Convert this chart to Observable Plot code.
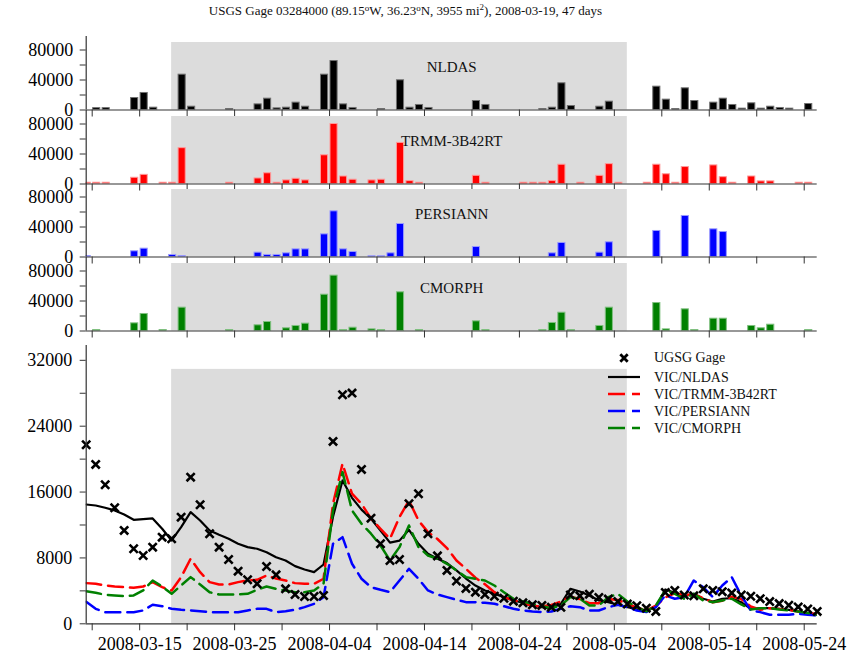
<!DOCTYPE html>
<html><head><meta charset="utf-8">
<script src="https://cdn.jsdelivr.net/npm/d3@7"></script>
<script src="https://cdn.jsdelivr.net/npm/@observablehq/plot@0.6"></script>
<style>
body{margin:0;background:#fff;}
#chart{position:relative;width:861px;height:653px;font-family:"Liberation Serif","Times New Roman",serif;overflow:hidden;background:#fff;}
#chart > svg{position:absolute;left:0;}
</style></head><body><div id="chart"></div>
<script>
// ---------------- data ----------------
const startDate = "2008-03-10";           // first daily value
const windowDates = ["2008-03-19", "2008-05-06"]; // shaded 47-day window
const tickLabels = ["2008-03-15","2008-03-25","2008-04-04","2008-04-14","2008-04-24","2008-05-04","2008-05-14","2008-05-24"];
const panelNames = ["NLDAS", "TRMM-3B42RT", "PERSIANN", "CMORPH"];
const legendNames = ["UGSG Gage", "VIC/NLDAS", "VIC/TRMM-3B42RT", "VIC/PERSIANN", "VIC/CMORPH"];

// daily precipitation bars (78 days)
const precipNLDAS = [
0,2500,2500,0,0,16000,22700,3100,0,0,
47100,4400,0,0,0,1300,0,0,7500,15100,
2200,3100,9800,4400,0,47100,65300,7500,2700,0,
0,1300,0,39600,3100,6700,2700,0,0,0,
0,12000,6700,0,0,0,0,0,1300,3100,
35600,5300,0,0,4400,11100,0,0,0,0,
31100,13800,1300,28900,12000,0,9800,15100,6700,1800,
8900,1800,4400,2700,1800,0,8000,0];
const precipTRMM = [
1700,1700,1700,0,0,8300,12200,0,1700,1700,
47800,0,0,0,0,1700,0,0,7400,14300,
1700,4800,7000,4800,0,38300,80000,10000,5700,0,
4800,5700,0,54800,3900,1700,0,0,0,0,
0,10900,1700,0,0,0,1700,1700,1700,3900,
25700,0,1700,0,10900,26500,1700,0,0,1700,
25700,13000,1700,22600,0,0,24800,9100,1700,0,
10000,3500,3500,0,0,1700,1700,0];
const precipPERSIANN = [
1300,0,0,0,0,7600,11100,0,0,2700,
1300,0,0,0,0,0,0,0,5800,2700,
2700,4900,10200,10200,0,30200,60900,10200,6700,0,
900,900,4900,44000,0,0,0,0,0,0,
0,13300,0,0,0,0,0,0,0,4900,
18700,0,0,0,5800,19600,0,0,0,0,
34700,0,0,54700,0,0,36900,33300,0,0,
0,0,0,0,0,0,0,0];
const precipCMORPH = [
0,1300,0,0,0,10200,22700,0,1300,0,
31100,0,0,0,0,1300,0,0,7600,12000,
0,3600,6700,9800,0,48400,73800,1300,4400,0,
2200,1300,0,51600,0,1300,0,0,0,0,
0,12900,1300,0,0,0,0,0,1300,10700,
24400,1300,0,0,6700,31100,0,0,0,0,
37300,2200,0,28900,1300,0,16400,16400,0,0,
6700,3600,8400,0,0,0,1300,0];

// daily streamflow (78 days)
const flowGage = [
21750,19360,16890,14090,11340,9110,8300,9310,10520,10330,
12950,17810,14460,10940,9310,7810,6390,5350,4860,6960,
5950,4250,3560,3320,3320,3440,22150,27820,28020,18750,
12830,9720,7690,7810,14580,15800,10940,8250,6480,5200,
4300,3840,3560,3350,3100,2750,2550,2310,2230,2020,
2000,3500,3400,3600,3200,3000,2700,2400,2200,1900,
1500,3800,4050,3500,3400,4250,4050,3900,3750,3500,
3350,3050,2700,2450,2250,2050,1800,1500];
const flowNLDAS = [
14490,14370,14090,13770,13280,12630,12710,12800,11540,10120,
11740,13560,12550,11340,10810,10330,9720,9310,9110,8700,
8090,7690,7000,6600,6270,7200,13000,17410,15300,13870,
12760,11330,9850,10100,11420,9720,8500,7900,7370,6480,
5500,4650,4050,3640,3240,2830,2550,2230,2020,1900,
2430,4250,3920,3440,2830,2630,2310,2020,1820,1620,
2020,4170,3770,3350,3640,3040,2710,3040,3110,2630,
1820,1900,1900,1820,1700,1500,1340,1090];
const flowTRMM = [
4940,4860,4660,4530,4450,4370,4530,5060,4450,4050,
5670,7900,6270,5060,4780,4780,5060,5260,5340,5870,
5500,5260,4940,4860,4860,5470,14580,19440,15800,14580,
12760,11540,10330,12960,14980,12550,11130,10300,9200,7690,
6680,5600,4800,3840,3200,2900,2500,2200,2100,2300,
2700,3300,3000,2500,2500,3000,2900,2400,2000,1600,
2200,3200,3700,3500,3600,3100,2600,2800,3300,3000,
2100,1700,1900,1800,1700,1500,1300,1200];
const flowPERSIANN = [
2670,1820,1410,1410,1410,1410,1620,2310,2140,1820,
1700,1620,1530,1410,1410,1410,1410,1620,1820,1820,
1410,1530,1700,2020,2430,3240,9720,10520,7290,5470,
4450,4130,3840,5260,6680,5470,4050,3560,3240,2920,
2630,2630,2550,2430,2140,1820,1620,1500,1420,1500,
1820,2140,2020,1620,1620,2020,2310,2020,1620,1420,
2020,3440,3040,3240,5260,4450,3240,4650,5670,3440,
1620,1420,1090,1090,1090,1220,1090,1010];
const flowCMORPH = [
3960,3770,3520,3440,3360,3440,4050,5260,4530,3640,
4660,5670,4780,3840,3560,3560,3560,3640,4120,4530,
4250,4050,3840,3840,4050,4860,13770,18420,13770,12150,
10940,9520,7690,9310,11940,9310,8300,7900,7290,6480,
5670,5470,5260,4650,3840,3040,2710,2430,2140,1900,
2230,3240,3040,2230,2230,3240,3640,2710,2020,1500,
2230,4050,3640,3040,3640,2830,2630,2830,3040,2350,
1740,1900,1900,1740,1620,1500,1300,1090];

// ---------------- layout / helpers ----------------
const DAY = 864e5;
const t0 = Date.parse(startDate + "T00:00:00Z");
const POINT_SHIFT = -0.632;               // daily values are drawn a little before the date tick
const pointX = i => new Date(t0 + (i + POINT_SHIFT) * DAY);
const barX1 = i => new Date(t0 + (i - 1 + 0.10) * DAY);
const barX2 = i => new Date(t0 + (i - 1 + 0.85) * DAY);
const nDays = flowGage.length;
const xDomain = [pointX(0), pointX(nDays - 1)];
const shade = {x1: new Date(Date.parse(windowDates[0] + "T00:00:00Z") + POINT_SHIFT * DAY),
               x2: new Date(Date.parse(windowDates[1] + "T00:00:00Z") + POINT_SHIFT * DAY)};
const minorTicks = d3.range(0, nDays - 1, 5).map(k => new Date(t0 + k * DAY));
const labelSet = new Set(tickLabels);
const fmtDay = d3.utcFormat("%Y-%m-%d");

const FONT = '"Liberation Serif","Times New Roman",serif';
const chart = document.getElementById("chart");
const ML = 85.7, MR = 44.3;

const panels = [
  {vals: precipNLDAS, fill: "#000000", edge: "#707070"},
  {vals: precipTRMM, fill: "#ff0000", edge: "#ff9a9a"},
  {vals: precipPERSIANN, fill: "#0000ff", edge: "#9a9aff"},
  {vals: precipCMORPH, fill: "#008000", edge: "#80c080"}
];
const baselines = [109.5, 183, 256.5, 330];
const PH = 73.5;

panels.forEach((p, k) => {
  const data = p.vals.map((v, i) => ({i, v})).filter(d => d.v > 0);
  const mt = 10, mb = 10;
  const svg = Plot.plot({
    width: 861, height: mt + PH + mb,
    marginLeft: ML, marginRight: MR, marginTop: mt, marginBottom: mb,
    x: {type: "utc", domain: xDomain, label: null},
    y: {domain: [0, 98000], label: null},
    style: {fontFamily: FONT, fontSize: "18px", color: "#000", background: "transparent", overflow: "visible"},
    marks: [
      Plot.rect([shade], {x1: "x1", x2: "x2", y1: 0, y2: 90000, fill: "#dcdcdc"}),
      Plot.rectY(data, {x1: d => barX1(d.i), x2: d => barX2(d.i), y: "v", fill: p.fill, stroke: p.edge, strokeWidth: 1, clip: true}),
      Plot.text([panelNames[k]], {frameAnchor: "top", lineAnchor: "top", dy: 24.5, text: d => d, fontSize: 15, fill: "#111"}),
      Plot.ruleY([0], {stroke: "#333", strokeWidth: 1.2}),
      Plot.ruleX([xDomain[0]], {stroke: "#333", strokeWidth: 1.2}),
      Plot.axisX({ticks: minorTicks, tickFormat: () => "", tickSize: 7, stroke: "#333", label: null}),
      Plot.axisY({ticks: [0, 20000, 40000, 60000, 80000], tickFormat: d => d % 40000 === 0 ? String(d) : "", tickSize: 6, tickPadding: 7, stroke: "#333", label: null})
    ]
  });
  svg.style.top = (baselines[k] - PH - mt) + "px";
  chart.appendChild(svg);
});

// ---------------- streamflow panel ----------------
const series = [
  {vals: flowNLDAS, stroke: "#000000", dash: null, w: 2.2},
  {vals: flowTRMM, stroke: "#ff0000", dash: "15,7", w: 2.5},
  {vals: flowPERSIANN, stroke: "#0000ff", dash: "15,7", w: 2.5},
  {vals: flowCMORPH, stroke: "#008000", dash: "15,7", w: 2.5}
];
const gage = flowGage.map((v, i) => ({i, v}));
const bTop = 330, bmt = 15, bmb = 29.7, bInner = 278.3;
const bottom = Plot.plot({
  width: 861, height: bmt + bInner + bmb,
  marginLeft: ML, marginRight: MR, marginTop: bmt, marginBottom: bmb,
  x: {type: "utc", domain: xDomain, label: null},
  y: {domain: [0, 33800], label: null},
  style: {fontFamily: FONT, fontSize: "18px", color: "#000", background: "transparent", overflow: "visible"},
  marks: [
    Plot.rect([shade], {x1: "x1", x2: "x2", y1: 0, y2: 30900, fill: "#dcdcdc"}),
    ...series.map(s => Plot.line(s.vals.map((v, i) => ({i, v})), {
      x: d => pointX(d.i), y: "v", stroke: s.stroke, strokeWidth: s.w,
      strokeDasharray: s.dash, strokeLinejoin: "round", clip: true})),
    Plot.dot(gage, {x: d => pointX(d.i), y: "v", symbol: "times", r: 3.8, stroke: "#000", strokeWidth: 2.6}),
    Plot.ruleY([0], {stroke: "#333", strokeWidth: 1.2}),
    Plot.ruleX([xDomain[0]], {stroke: "#333", strokeWidth: 1.2}),
    Plot.axisX({ticks: minorTicks, tickFormat: d => labelSet.has(fmtDay(d)) ? fmtDay(d) : "", tickSize: 7, tickPadding: 6, stroke: "#333", label: null}),
    Plot.axisY({ticks: d3.range(0, 32001, 4000), tickFormat: d => d % 8000 === 0 ? String(d) : "", tickSize: 6, tickPadding: 8, stroke: "#333", label: null})
  ]
});
bottom.style.top = bTop + "px";
chart.appendChild(bottom);

// ---------------- title + legend overlay ----------------
const ov = d3.create("svg").attr("width", 861).attr("height", 653)
  .style("position", "absolute").style("top", "0px").style("left", "0px")
  .style("font-family", FONT).style("pointer-events", "none");
const title = ov.append("text").attr("x", 405.5).attr("y", 15).attr("text-anchor", "middle")
  .attr("font-size", 13).attr("fill", "#111");
title.append("tspan").text("USGS Gage 03284000 (89.15");
title.append("tspan").attr("font-size", 9).attr("dy", -4).text("o");
title.append("tspan").attr("dy", 4).text("W, 36.23");
title.append("tspan").attr("font-size", 9).attr("dy", -4).text("o");
title.append("tspan").attr("dy", 4).text("N, 3955 mi");
title.append("tspan").attr("font-size", 9).attr("dy", -5).text("2");
title.append("tspan").attr("dy", 5).text("), 2008-03-19, 47 days");

const lg = ov.append("g").attr("font-size", 14).attr("fill", "#111");
const rowY = [357.5, 377, 394, 411, 428];
// gage marker
lg.append("path").attr("d", "M620.3,354.3L627.7,361.7M620.3,361.7L627.7,354.3")
  .attr("stroke", "#000").attr("stroke-width", 2.8).attr("fill", "none");
series.forEach((s, k) => {
  lg.append("line").attr("x1", 608).attr("x2", 640).attr("y1", rowY[k + 1]).attr("y2", rowY[k + 1])
    .attr("stroke", s.stroke).attr("stroke-width", s.w)
    .attr("stroke-dasharray", s.dash ? "17,7" : null);
});
legendNames.forEach((n, k) => {
  lg.append("text").attr("x", 654).attr("y", rowY[k]).attr("dy", "0.35em").text(n);
});
chart.appendChild(ov.node());
</script>
</body></html>
